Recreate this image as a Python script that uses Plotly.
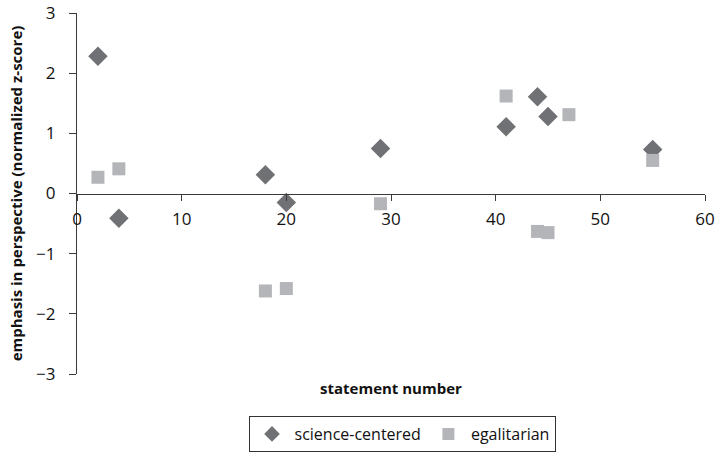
import plotly.graph_objects as go

# statement numbers and emphasis (normalized z-score)
sci_x = [2, 4, 18, 20, 29, 41, 44, 45, 55]
sci_y = [2.28, -0.41, 0.31, -0.15, 0.75, 1.11, 1.61, 1.28, 0.73]
ega_x = [2, 4, 18, 20, 29, 41, 44, 45, 47, 55]
ega_y = [0.27, 0.41, -1.62, -1.58, -0.17, 1.62, -0.63, -0.65, 1.31, 0.55]

x_ticks = [0, 10, 20, 30, 40, 50, 60]
y_ticks = [-3, -2, -1, 0, 1, 2, 3]

FONT = "Open Sans"
AXIS_COLOR = "#3a3a3a"

fig = go.Figure()
fig.add_trace(go.Scatter(
    x=sci_x, y=sci_y, mode="markers", name="science-centered",
    marker=dict(symbol="diamond", size=15, color="#707174", line=dict(width=0)),
))
fig.add_trace(go.Scatter(
    x=ega_x, y=ega_y, mode="markers", name="egalitarian",
    marker=dict(symbol="square", size=13, color="#b3b5b8", line=dict(width=0)),
))

dom = [0.0, 1.0]
fig.update_layout(
    width=717, height=452,
    margin=dict(l=77, r=12, t=13, b=78),
    paper_bgcolor="white", plot_bgcolor="white",
    font=dict(family=FONT, size=14, color="#111111"),
    showlegend=True,
    legend=dict(
        orientation="h", x=(402 - 77) / 628, xanchor="center",
        yref="container", y=(452 - 416) / 452, yanchor="top",
        bordercolor="#333333", borderwidth=1, font=dict(size=16),
        itemsizing="constant", tracegroupgap=0, itemwidth=35,
    ),
    xaxis=dict(
        range=[0, 60], tickvals=x_ticks, showgrid=False, zeroline=False,
        showline=True, linecolor=AXIS_COLOR, linewidth=1.3,
        ticks="outside", ticklen=6, tickcolor=AXIS_COLOR, tickwidth=1.3,
        anchor="free", position=0.5 * (dom[0] + dom[1]),
        tickfont=dict(size=17), automargin=False, ticklabelstandoff=4,
    ),
    yaxis=dict(
        range=[-3, 3], tickvals=y_ticks, showgrid=False, zeroline=False,
        showline=True, linecolor=AXIS_COLOR, linewidth=1.3, domain=dom,
        ticks="outside", ticklen=7, tickcolor=AXIS_COLOR, tickwidth=1.3,
        tickfont=dict(size=17), automargin=False, ticklabelstandoff=10,
        title=dict(text="<b>emphasis in perspective (normalized z-score)</b>",
                   font=dict(size=15), standoff=9),
    ),
    annotations=[dict(
        text="<b>statement number</b>", xref="paper", yref="paper",
        x=0.5, y=(374 - 388) / 361, xanchor="center", yanchor="middle",
        showarrow=False, font=dict(size=15),
    )],
)

fig.write_html("out.html", config={"displayModeBar": False},
               post_script="document.body.style.margin='0';document.body.style.overflow='hidden';")
